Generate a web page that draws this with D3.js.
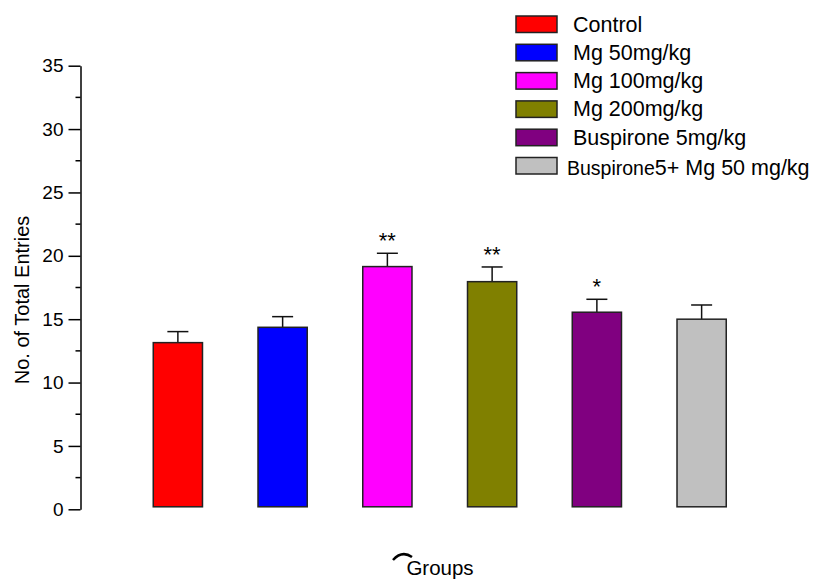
<!DOCTYPE html>
<html>
<head>
  <meta charset="utf-8">
  <script src="https://d3js.org/d3.v7.min.js"></script>
  <style>
    body { margin: 0; background: #fff; }
    text { font-family: Arial, "Liberation Sans", sans-serif; fill: #000; }
  </style>
</head>
<body>
<script>
  // data (mean and SEM per group)
  var groups = ["Control", "Mg 50mg/kg", "Mg 100mg/kg", "Mg 200mg/kg", "Buspirone 5mg/kg", "Buspirone 5+ Mg 50 mg/kg"];
  var means = [13.15, 14.36, 19.15, 17.96, 15.55, 15.0];
  var sems = [0.87, 0.84, 1.05, 1.16, 1.02, 1.12];
  var stars = ["", "", "**", "**", "*", ""];
  var colors = ["#ff0000", "#0000ff", "#ff00ff", "#808000", "#800080", "#c0c0c0"];
  var yTicks = [0, 5, 10, 15, 20, 25, 30, 35];

  var W = 816, H = 581;
  var svg = d3.select("body").append("svg")
      .attr("width", W)
      .attr("height", H);

  var x = d3.scaleBand()
      .domain(groups)
      .range([125.5, 754])
      .paddingInner(0.53)
      .paddingOuter(0.265);

  var y = d3.scaleLinear()
      .domain([0, 35])
      .range([509.3, 65.7]);

  // y axis with major and minor ticks
  var yAxis = svg.append("g")
      .attr("transform", "translate(80.5,0)")
      .call(d3.axisLeft(y).tickValues(yTicks).tickSize(12).tickPadding(5).tickSizeOuter(0));
  yAxis.select(".domain").attr("stroke", "#000").attr("stroke-width", 1.5);
  yAxis.selectAll(".tick line").attr("stroke", "#000").attr("stroke-width", 1.5);
  yAxis.selectAll(".tick text")
      .style("font-size", "19px")
      .attr("fill", "#000");
  yAxis.selectAll(".minor")
    .data(d3.range(2.5, 35, 5))
    .enter().append("line")
      .attr("class", "minor")
      .attr("x1", -5).attr("x2", 0)
      .attr("y1", function (d) { return y(d); })
      .attr("y2", function (d) { return y(d); })
      .attr("stroke", "#000")
      .attr("stroke-width", 1.5);

  svg.append("text")
      .attr("transform", "translate(29,300) rotate(-90)")
      .attr("text-anchor", "middle")
      .style("font-size", "20px")
      .text("No. of Total Entries");

  // error bars first, bars drawn over them
  var err = svg.selectAll(".err")
    .data(groups)
    .enter().append("g")
      .attr("class", "err")
      .attr("stroke", "#111")
      .attr("stroke-width", 1.5);
  err.append("line")
      .attr("x1", function (d) { return x(d) + x.bandwidth() / 2; })
      .attr("x2", function (d) { return x(d) + x.bandwidth() / 2; })
      .attr("y1", function (d, i) { return y(means[i]); })
      .attr("y2", function (d, i) { return y(means[i] + sems[i]); });
  err.append("line")
      .attr("x1", function (d) { return x(d) + x.bandwidth() / 2 - 10.5; })
      .attr("x2", function (d) { return x(d) + x.bandwidth() / 2 + 10.5; })
      .attr("y1", function (d, i) { return y(means[i] + sems[i]); })
      .attr("y2", function (d, i) { return y(means[i] + sems[i]); });

  svg.selectAll(".bar")
    .data(groups)
    .enter().append("rect")
      .attr("class", "bar")
      .attr("x", function (d) { return x(d); })
      .attr("width", x.bandwidth())
      .attr("y", function (d, i) { return y(means[i]); })
      .attr("height", function (d, i) { return y(0) - 2.5 - y(means[i]); })
      .attr("fill", function (d, i) { return colors[i]; })
      .attr("stroke", "#222")
      .attr("stroke-width", 1.5);

  svg.selectAll(".star")
    .data(groups)
    .enter().append("text")
      .attr("class", "star")
      .attr("x", function (d) { return x(d) + x.bandwidth() / 2; })
      .attr("y", function (d, i) { return y(means[i] + sems[i]) - 5; })
      .attr("text-anchor", "middle")
      .style("font-size", "22px")
      .text(function (d, i) { return stars[i]; });

  // x axis title (with the stray arc seen in the original)
  svg.append("text")
      .attr("x", 440)
      .attr("y", 575)
      .attr("text-anchor", "middle")
      .style("font-size", "20.5px")
      .text("Groups");
  svg.append("path")
      .attr("d", "M393,560 Q402,550 412,557")
      .attr("fill", "none")
      .attr("stroke", "#000")
      .attr("stroke-width", 2.5);

  // legend
  var leg = svg.selectAll(".leg")
    .data(groups)
    .enter().append("g")
      .attr("class", "leg")
      .attr("transform", function (d, i) { return "translate(516," + (16 + i * 28.3) + ")"; });
  leg.append("rect")
      .attr("width", 41)
      .attr("height", 16.5)
      .attr("fill", function (d, i) { return colors[i]; })
      .attr("stroke", "#222")
      .attr("stroke-width", 1.5);
  leg.filter(function (d, i) { return i < 5; })
    .append("text")
      .attr("x", 57)
      .attr("y", 15.5)
      .style("font-size", "21.5px")
      .text(function (d) { return d; });
  var last = leg.filter(function (d, i) { return i === 5; })
    .append("text")
      .attr("x", 51)
      .attr("y", 17.5);
  last.append("tspan").style("font-size", "19.5px").text("Buspirone");
  last.append("tspan").style("font-size", "21.5px").text("5+ Mg 50 mg/kg");
</script>
</body>
</html>
